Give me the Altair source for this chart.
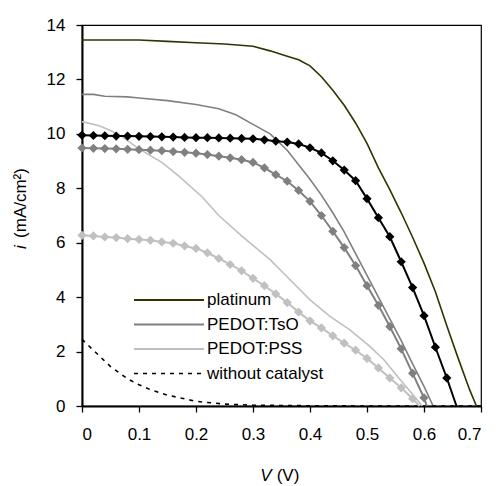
import altair as alt
import pandas as pd

FONT = "Liberation Sans"

# ---- data ----
platinum_V = [0, 0.05, 0.1, 0.15, 0.2, 0.25, 0.3, 0.33, 0.36, 0.38, 0.4, 0.42, 0.44, 0.46,
              0.48, 0.5, 0.52, 0.54, 0.56, 0.58, 0.6, 0.62, 0.64, 0.66, 0.68, 0.692]
platinum_i = [13.45, 13.45, 13.45, 13.4, 13.35, 13.3, 13.22, 13.05, 12.85, 12.72, 12.5, 12.1,
              11.6, 11.05, 10.4, 9.65, 8.75, 7.95, 7.1, 6.2, 5.25, 4.2, 2.95, 1.75, 0.6, 0.0]

tso_V = [0, 0.02, 0.04, 0.08, 0.1, 0.15, 0.2, 0.24, 0.27, 0.3, 0.33, 0.36, 0.4, 0.42, 0.44,
         0.46, 0.48, 0.5, 0.52, 0.54, 0.56, 0.58, 0.6, 0.616]
tso_i = [11.45, 11.45, 11.38, 11.36, 11.32, 11.22, 11.08, 10.92, 10.7, 10.35, 10.0, 9.4, 8.33,
         7.75, 7.1, 6.4, 5.6, 4.8, 4.0, 3.2, 2.4, 1.55, 0.72, 0.0]

pss_V = [0, 0.03, 0.05, 0.07, 0.1, 0.14, 0.17, 0.21, 0.24, 0.28, 0.3, 0.33, 0.365, 0.4, 0.435,
         0.47, 0.505, 0.53, 0.555, 0.575, 0.597]
pss_i = [10.45, 10.3, 10.12, 9.9, 9.45, 8.95, 8.45, 7.7, 7.0, 6.25, 5.9, 5.38, 4.64, 3.9, 3.29,
         2.8, 2.19, 1.69, 1.05, 0.55, 0.0]

nocat_V = [0, 0.02, 0.03, 0.05, 0.08, 0.1, 0.12, 0.15, 0.2, 0.25, 0.3, 0.4, 0.5, 0.6, 0.7]
nocat_i = [2.45, 2.05, 1.85, 1.45, 1.0, 0.78, 0.6, 0.4, 0.17, 0.07, 0.03, 0.01, 0.0, 0.0, 0.0]

black_V = [0, 0.02, 0.04, 0.06, 0.08, 0.1, 0.12, 0.14, 0.16, 0.18, 0.2, 0.22, 0.24, 0.26, 0.28,
           0.3, 0.32, 0.34, 0.36, 0.38, 0.4, 0.42, 0.44, 0.46, 0.48, 0.5, 0.52, 0.54, 0.56,
           0.58, 0.6, 0.62, 0.64, 0.657]
black_i = [9.95, 9.94, 9.93, 9.92, 9.92, 9.91, 9.9, 9.89, 9.88, 9.87, 9.86, 9.86, 9.85, 9.84,
           9.83, 9.82, 9.78, 9.73, 9.7, 9.63, 9.49, 9.3, 9.01, 8.67, 8.28, 7.62, 6.92, 6.22,
           5.3, 4.35, 3.32, 2.16, 1.03, 0.0]

gray_V = [0, 0.02, 0.04, 0.06, 0.08, 0.1, 0.12, 0.14, 0.16, 0.18, 0.2, 0.22, 0.24, 0.26, 0.28,
          0.3, 0.32, 0.34, 0.36, 0.38, 0.4, 0.42, 0.44, 0.46, 0.48, 0.5, 0.52, 0.54, 0.56,
          0.58, 0.6, 0.605]
gray_i = [9.48, 9.47, 9.46, 9.45, 9.43, 9.42, 9.4, 9.38, 9.35, 9.32, 9.29, 9.24, 9.18, 9.12,
          9.05, 8.95, 8.75, 8.5, 8.26, 7.92, 7.52, 7.0, 6.42, 5.82, 5.16, 4.42, 3.7, 2.92,
          2.1, 1.2, 0.3, 0.0]

light_V = [0, 0.02, 0.04, 0.06, 0.08, 0.1, 0.12, 0.14, 0.16, 0.18, 0.2, 0.22, 0.24, 0.26, 0.28,
           0.3, 0.32, 0.34, 0.36, 0.38, 0.4, 0.42, 0.44, 0.46, 0.48, 0.5, 0.52, 0.54, 0.56,
           0.58, 0.592]
light_i = [6.27, 6.25, 6.21, 6.19, 6.15, 6.12, 6.09, 6.03, 5.98, 5.88, 5.79, 5.63, 5.42, 5.2,
           4.97, 4.69, 4.42, 4.12, 3.8, 3.45, 3.13, 2.87, 2.58, 2.31, 2.05, 1.75, 1.4, 1.03,
           0.67, 0.27, 0.0]

x_ticks = [0, 0.1, 0.2, 0.3, 0.4, 0.5, 0.6, 0.7]
y_ticks = [0, 2, 4, 6, 8, 10, 12, 14]

legend_labels = ["platinum", "PEDOT:TsO", "PEDOT:PSS", "without catalyst"]

# ---- table ----
rows = []
def add(name, V, I, markers):
    n = len(V)
    for k, (v, i) in enumerate(zip(V, I)):
        # the last point of a marker series is the zero crossing (line only)
        rows.append({"s": name, "V": v, "i": i,
                     "m": bool(markers and k < n - 1)})

add("platinum", platinum_V, platinum_i, False)
add("tso", tso_V, tso_i, False)
add("pss", pss_V, pss_i, False)
add("nocat", nocat_V, nocat_i, False)
add("black", black_V, black_i, True)
add("gray", gray_V, gray_i, True)
add("light", light_V, light_i, True)
df = pd.DataFrame(rows)

xs = alt.Scale(domain=[0, 0.7], nice=False, zero=False)
ys = alt.Scale(domain=[0, 14], nice=False)

x_axis = alt.Axis(values=x_ticks, labelExpr="format(datum.value, '.1~f')", title=None,
                  grid=False, tickSize=6, tickColor="black", tickWidth=1.3,
                  domainColor="black", domainWidth=2, labelFont=FONT, labelFontSize=17,
                  labelColor="black", labelPadding=14)
y_axis = alt.Axis(values=y_ticks, title=None, grid=False, tickSize=6, tickColor="black",
                  tickWidth=1.3, domainColor="black", domainWidth=2, labelFont=FONT,
                  labelFontSize=17, labelColor="black", labelPadding=11)

X = alt.X("V:Q", scale=xs, axis=x_axis)
Y = alt.Y("i:Q", scale=ys, axis=y_axis)

base = alt.Chart(df)

def line(name, color, width, dash=None):
    kw = dict(color=color, strokeWidth=width)
    if dash:
        kw["strokeDash"] = dash
    return base.mark_line(**kw).encode(x=X, y=Y, order="V:Q").transform_filter(
        alt.datum.s == name)

def pts(name, color):
    return base.mark_point(shape="diamond", filled=True, size=85, color=color,
                           opacity=1, strokeWidth=0).encode(x=X, y=Y).transform_filter(
        (alt.datum.s == name) & alt.datum.m)

OLIVE = "#333300"
layers = [
    line("platinum", OLIVE, 1.6),
    line("tso", "#808080", 1.6),
    line("pss", "#c0c0c0", 1.6),
    line("nocat", "black", 1.6, dash=[4, 5]),
    line("light", "#c0c0c0", 2),
    pts("light", "#c0c0c0"),
    line("gray", "#808080", 2),
    pts("gray", "#808080"),
    line("black", "black", 2),
    pts("black", "black"),
]

# ---- legend (drawn by hand, lines only as in the reference) ----
one = pd.DataFrame({"k": [0]})
leg_styles = [(OLIVE, None), ("#808080", None), ("#c0c0c0", None), ("black", [4, 5])]
leg_y = [275, 299.5, 324, 348.5]
for lab, (col, dash), yy in zip(legend_labels, leg_styles, leg_y):
    kw = dict(color=col, strokeWidth=1.8)
    if dash:
        kw["strokeDash"] = dash
        kw["strokeWidth"] = 1.6
    layers.append(alt.Chart(one).mark_rule(**kw).encode(
        x=alt.value(52), x2=alt.value(122), y=alt.value(yy)))
    layers.append(alt.Chart(one).mark_text(
        align="left", baseline="middle", font=FONT, fontSize=17, color="black").encode(
        x=alt.value(125), y=alt.value(yy), text=alt.value(lab)))

# ---- axis titles (italic symbol + plain unit) ----
layers.append(alt.Chart(one).mark_text(
    font=FONT, fontSize=17, fontStyle="italic", color="black",
    align="center", baseline="middle").encode(
    x=alt.value(184), y=alt.value(451), text=alt.value("V")))
layers.append(alt.Chart(one).mark_text(
    font=FONT, fontSize=17, color="black", align="center", baseline="middle").encode(
    x=alt.value(206), y=alt.value(451), text=alt.value("(V)")))
layers.append(alt.Chart(one).mark_text(
    font=FONT, fontSize=17, fontStyle="italic", color="black", angle=270,
    align="center", baseline="middle").encode(
    x=alt.value(-61), y=alt.value(222), text=alt.value("i")))
layers.append(alt.Chart(one).mark_text(
    font=FONT, fontSize=17, color="black", angle=270,
    align="center", baseline="middle").encode(
    x=alt.value(-61), y=alt.value(178), text=alt.value("(mA/cm²)")))

chart = alt.layer(*layers).properties(
    width=399, height=381,
    autosize=alt.AutoSizeParams(type="none"),
    padding={"left": 82, "top": 25, "right": 15, "bottom": 80},
    background="white",
).configure_view(stroke="black", strokeWidth=1.2)

chart.save("out.html", embed_options={"renderer": "svg", "actions": False})
